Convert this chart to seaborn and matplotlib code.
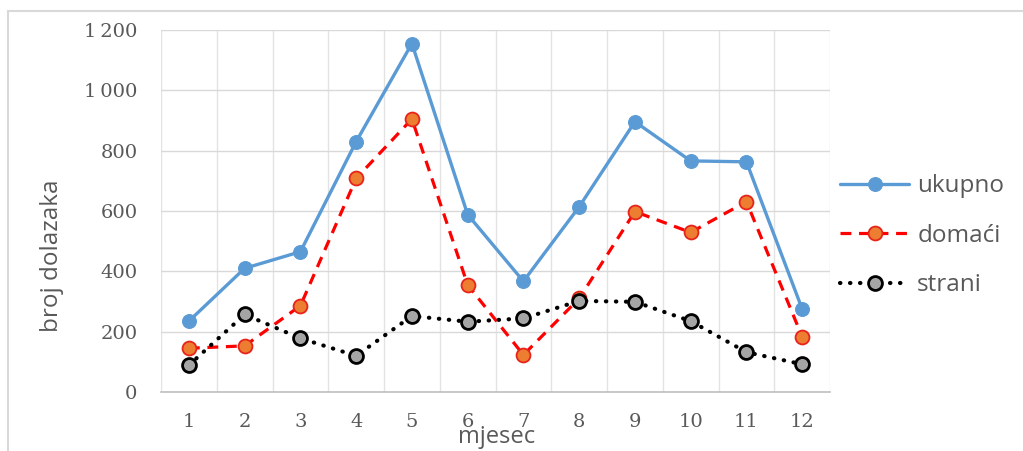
import numpy as np
import pandas as pd
import seaborn as sns
import matplotlib
matplotlib.use('Agg')
from matplotlib import pyplot as plt
from matplotlib.lines import Line2D

months = list(range(1, 13))
ukupno = [235, 410, 465, 830, 1155, 588, 367, 614, 896, 766, 763, 275]
domaci = [145, 153, 286, 708, 905, 355, 123, 310, 598, 529, 631, 183]
strani = [89, 257, 178, 120, 252, 233, 244, 302, 299, 235, 132, 92]
y_ticks = [0, 200, 400, 600, 800, 1000, 1200]
y_tick_labels = ['0', '200', '400', '600', '800', '1\u2009000', '1\u2009200']

sns.set_style('white')
plt.rcParams['font.family'] = ['Open Sans', 'DejaVu Sans']

grey_txt = '#595959'

fig = plt.figure(figsize=(10.23, 4.51), dpi=100)
ax = fig.add_axes([0.1574, 0.1308, 0.654, 0.8027])

df = pd.DataFrame({'mjesec': months, 'ukupno': ukupno, 'domaci': domaci, 'strani': strani})

sns.lineplot(data=df, x='mjesec', y='ukupno', ax=ax, color='#5B9BD5', lw=2.4,
             marker='o', markersize=10, markerfacecolor='#5B9BD5',
             markeredgecolor='#5B9BD5', label='ukupno', zorder=3)
sns.lineplot(data=df, x='mjesec', y='domaci', ax=ax, color='#FF0000', lw=2.3,
             linestyle=(0, (3.4, 2.4)), marker='o', markersize=10,
             markerfacecolor='#ED7D31', markeredgecolor='#E8231A', markeredgewidth=1.3,
             label='domaći', zorder=4)
sns.lineplot(data=df, x='mjesec', y='strani', ax=ax, color='black', lw=3.0,
             linestyle=(0, (0.1, 2.3)), dash_capstyle='round', marker='o',
             markersize=10, markerfacecolor='#A5A5A5', markeredgecolor='black',
             markeredgewidth=2.0, label='strani', zorder=5)

ax.set_xlim(0.5, 12.5)
ax.set_ylim(0, 1200)
ax.set_xticks(months)
ax.set_xticklabels([str(m) for m in months], family='DejaVu Serif',
                   fontsize=14, color=grey_txt)
ax.set_yticks(y_ticks)
ax.set_yticklabels(y_tick_labels, family='DejaVu Serif', fontsize=14, color=grey_txt)
ax.set_xticks(np.arange(0.5, 13, 1), minor=True)
ax.tick_params(axis='both', which='both', length=0)
ax.tick_params(axis='x', pad=15)
ax.tick_params(axis='y', pad=17)

ax.grid(True, axis='y', which='major', color='#D9D9D9', lw=1)
ax.grid(True, axis='x', which='minor', color='#E3E3E3', lw=1)
ax.grid(False, axis='x', which='major')
for side in ['top', 'right', 'left']:
    ax.spines[side].set_visible(False)
ax.spines['bottom'].set_color('#BFBFBF')
ax.spines['bottom'].set_linewidth(1.2)

ax.set_xlabel('')
ax.set_ylabel('')
fig.text(0.051, 0.432, 'broj dolazaka', rotation=90, ha='center', va='center',
         fontsize=17.5, color=grey_txt)
fig.text(0.485, 0.032, 'mjesec', ha='center', va='center', fontsize=17, color=grey_txt)

leg = ax.legend(loc='center left', bbox_to_anchor=(0.821, 0.477),
                bbox_transform=fig.transFigure, frameon=False, fontsize=17.5,
                handlelength=2.85, handletextpad=0.33, labelspacing=1.05,
                borderpad=0, borderaxespad=0)
for t in leg.get_texts():
    t.set_color(grey_txt)

# chart area border (top and left visible)
fig.add_artist(Line2D([8 / 1023, 1.0], [1 - 11 / 451, 1 - 11 / 451],
                      transform=fig.transFigure, color='#D9D9D9', lw=1.5))
fig.add_artist(Line2D([8 / 1023, 8 / 1023], [0.0, 1 - 11 / 451],
                      transform=fig.transFigure, color='#D9D9D9', lw=1.5))

fig.savefig('out.png', dpi=100)
